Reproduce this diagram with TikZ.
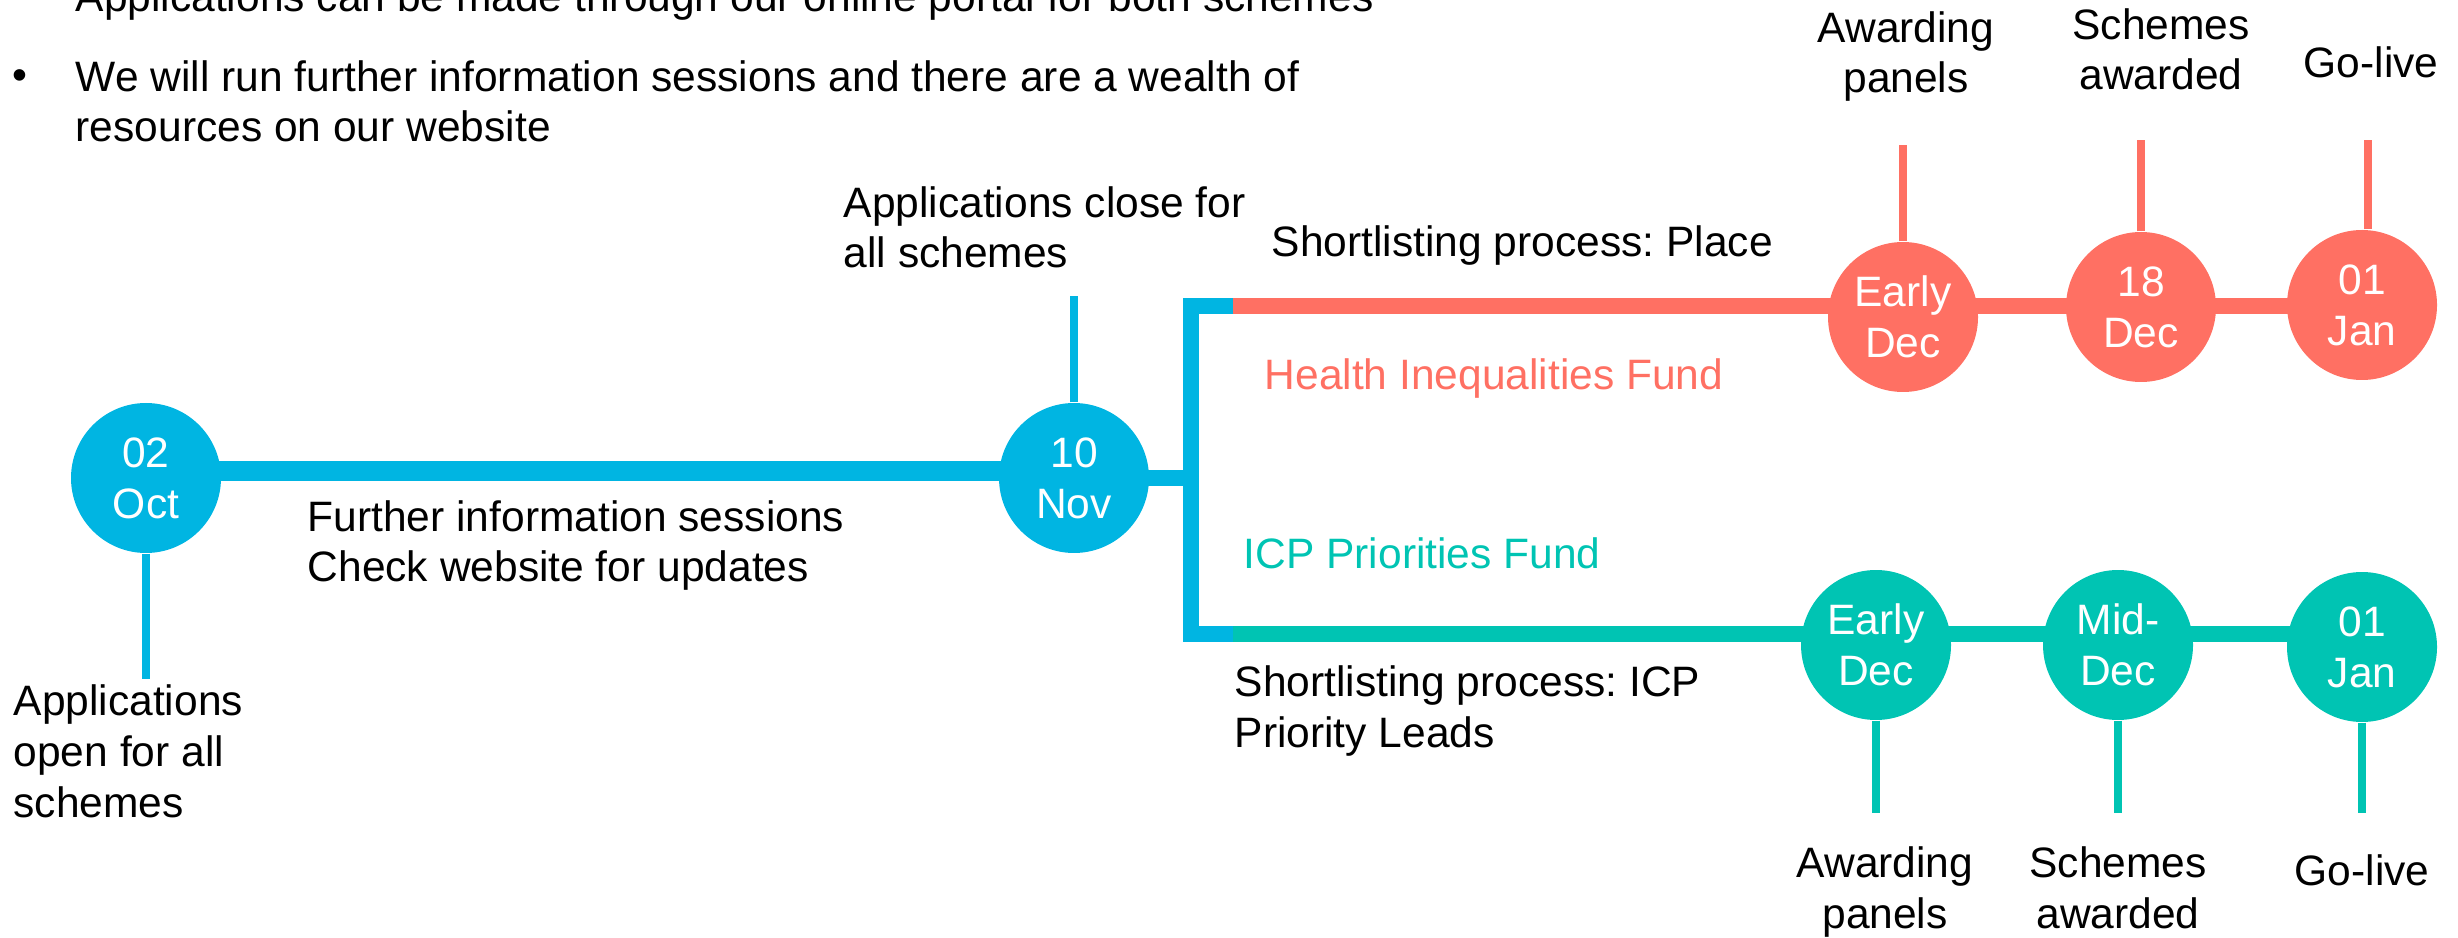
\documentclass[tikz,border=0pt]{standalone}
\usepackage{fontspec}
\setmainfont{Liberation Sans}
\usepackage{tikz}
\usepackage{xcolor}
\usetikzlibrary{backgrounds}
\frenchspacing

\definecolor{nhsblue}{RGB}{0,181,226}
\definecolor{hifred}{RGB}{255,112,99}
\definecolor{icpgreen}{RGB}{0,196,179}

\begin{document}
\begin{tikzpicture}[x=0.1mm, y=0.1mm,
    every node/.style={inner sep=0pt, font=\fontsize{12.1}{14.5}\selectfont},
    date/.style={circle, minimum size=15mm, text=white, align=center},
    lbl/.style={anchor=base west, align=left},
    toplbl/.style={anchor=base, align=center},
    tick/.style={line width=0.8mm},
    bar/.style={line width=1.6mm}]
            \useasboundingbox (0,0) rectangle (2458,-938);
            \clip (0,0) rectangle (2458,-938);
            \node [lbl] (intro) at (75,-12) {Applications can be made through our online portal for both schemes};
            \node [anchor=base west] (dot) at (12,-90) {\textbullet};
            \node [lbl] (sessions) at (75,-142) {We will run further information sessions and there are a wealth of\\resources on our website};
            \node [date, fill=nhsblue] (oct) at (146,-478) {02\\Oct};
            \node [date, fill=nhsblue] (nov) at (1074,-478) {10\\Nov};
            \node [date, fill=hifred] (hiearly) at (1903,-317) {Early\\Dec};
            \node [date, fill=hifred] (hidec) at (2141,-307) {18\\Dec};
            \node [date, fill=hifred] (hijan) at (2362,-305) {01\\Jan};
            \node [date, fill=icpgreen] (icpearly) at (1876,-645) {Early\\Dec};
            \node [date, fill=icpgreen] (icpmid) at (2118,-645) {Mid-\\Dec};
            \node [date, fill=icpgreen] (icpjan) at (2362,-647) {01\\Jan};
            \coordinate (fork) at (1191,-478);
            \coordinate (hifstart) at (1233,-306);
            \coordinate (icpstart) at (1233,-634);
            \begin{scope}[on background layer]
            \draw [nhsblue, line width=2mm] ([yshift=0.7mm]oct.center) -- ([yshift=0.7mm]nov.center);
            \draw [nhsblue, bar] (nov.center) -- (fork);
            \draw [nhsblue, bar] (hifstart) -| (fork) |- (icpstart);
            \draw [hifred, bar] (hifstart) -- (hifstart -| hijan);
            \draw [icpgreen, bar] (icpstart) -- (icpstart -| icpjan);
            \end{scope}
            \draw [nhsblue, tick] (oct.south) -- ++(0,-125) coordinate (octend);
            \draw [nhsblue, tick] (nov.north) -- ++(0,106) coordinate (novend);
            \draw [hifred, tick] (hiearly.north) -- ++(0,96) coordinate (hiearlyend);
            \draw [hifred, tick] (hidec.north) -- ++(0,91) coordinate (hidecend);
            \draw [hifred, tick] ([xshift=0.6mm]hijan.north) -- ++(0,89) coordinate (hijanend);
            \draw [icpgreen, tick] (icpearly.south) -- ++(0,-92) coordinate (icpearlyend);
            \draw [icpgreen, tick] (icpmid.south) -- ++(0,-92) coordinate (icpmidend);
            \draw [icpgreen, tick] (icpjan.south) -- ++(0,-90) coordinate (icpjanend);
            \node [lbl] (openlbl) at (13,-817) {Applications\\open for all\\schemes};
            \node [lbl] (infolbl) at (307,-582) {Further information sessions\\Check website for updates};
            \node [lbl] (closelbl) at (843,-268) {Applications close for\\all schemes};
            \node [lbl] (placelbl) at (1271,-257) {Shortlisting process: Place};
            \node [lbl, text=hifred] (hiflbl) at (1264,-390) {Health Inequalities Fund};
            \node [lbl, text=icpgreen] (icplbl) at (1243,-569) {ICP Priorities Fund};
            \node [lbl] (leadslbl) at (1234,-747) {Shortlisting process: ICP\\Priority Leads};
            \node [toplbl] (hipanels) at (1906,-93) {Awarding\\panels};
            \node [toplbl] (hiawarded) at (2161,-90) {Schemes\\awarded};
            \node [toplbl] (hilive) at (2371,-78) {Go-live};
            \node [toplbl] (icppanels) at (1885,-928) {Awarding\\panels};
            \node [toplbl] (icpawarded) at (2118,-928) {Schemes\\awarded};
            \node [toplbl] (icplive) at (2362,-885) {Go-live};
\end{tikzpicture}
\end{document}
